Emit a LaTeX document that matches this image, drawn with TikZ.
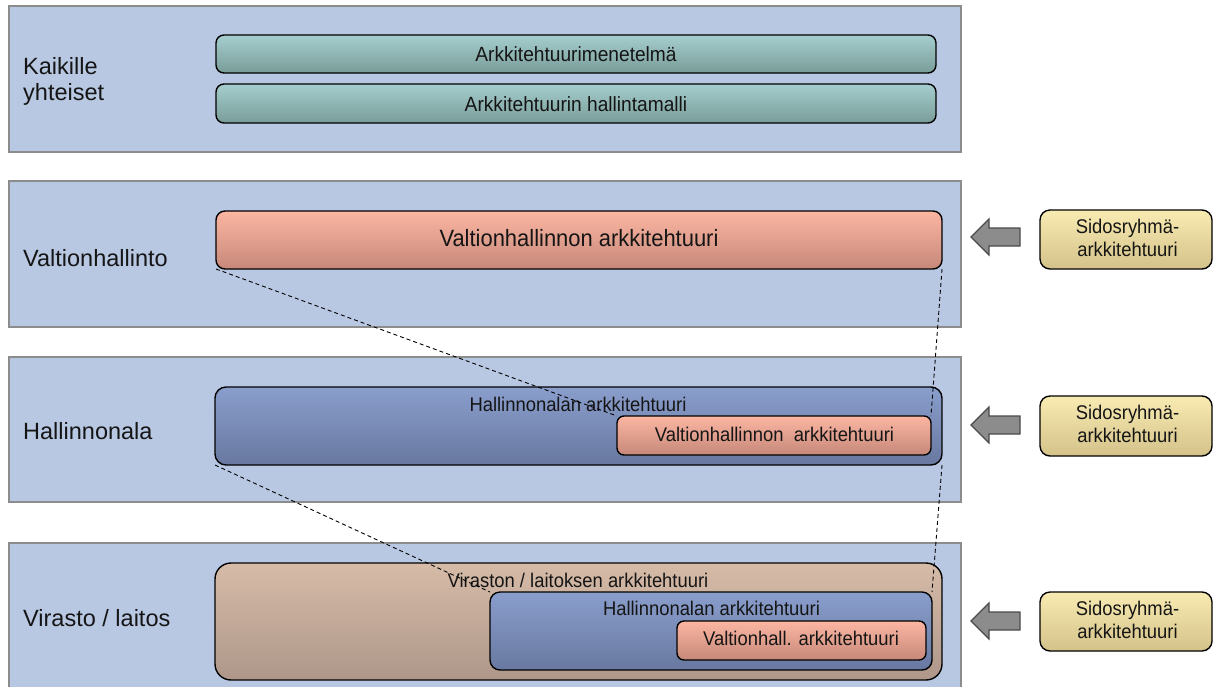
\documentclass[tikz,border=0pt]{standalone}
\usepackage{fontspec}
\setmainfont{Liberation Sans}
\newfontfamily\condsans[FakeStretch=0.93]{Liberation Sans}
\definecolor{bandfill}{HTML}{B8C8E2}
\definecolor{bandedge}{HTML}{8C8C8C}
\definecolor{tealtop}{HTML}{A5CECE}
\definecolor{tealbot}{HTML}{799C98}
\definecolor{salmtop}{HTML}{FCB6A2}
\definecolor{salmbot}{HTML}{C6887A}
\definecolor{bluetop}{HTML}{8A9ECC}
\definecolor{bluebot}{HTML}{6878A0}
\definecolor{browntop}{HTML}{D6BBA7}
\definecolor{brownbot}{HTML}{AE978A}
\definecolor{yeltop}{HTML}{F8EBB2}
\definecolor{yelbot}{HTML}{D4C289}
\definecolor{arrfill}{HTML}{8C8C8C}
\definecolor{arredge}{HTML}{4A4A4A}
\definecolor{txt}{HTML}{151515}
\begin{document}
\begin{tikzpicture}[x=1pt,y=-1pt,
  band/.style={draw=bandedge, line width=1.8pt, fill=bandfill, inner sep=0pt, outer sep=0pt, anchor=north west},
  rbox/.style={draw=black, line width=1.4pt, rounded corners=9pt, inner sep=0pt, outer sep=0pt},
  tealbox/.style={rbox, rounded corners=8pt, top color=tealtop, bottom color=tealbot},
  salmbox/.style={rbox, top color=salmtop, bottom color=salmbot},
  smallsalm/.style={rbox, rounded corners=7pt, top color=salmtop, bottom color=salmbot},
  bluebox/.style={rbox, rounded corners=11pt, top color=bluetop, bottom color=bluebot},
  brownbox/.style={rbox, rounded corners=16pt, top color=browntop, bottom color=brownbot},
  yelbox/.style={rbox, rounded corners=10pt, top color=yeltop, bottom color=yelbot},
  lbl/.style={text=txt, inner sep=0pt, anchor=base west, font=\fontsize{23.5pt}{28pt}\selectfont},
  bigtxt/.style={text=txt, inner sep=0pt, anchor=base, font=\condsans\fontsize{23.6pt}{28pt}\selectfont},
  midtxt/.style={text=txt, inner sep=0pt, anchor=base, font=\condsans\fontsize{20.6pt}{24pt}\selectfont},
  smalltxt/.style={text=txt, inner sep=0pt, anchor=base, font=\condsans\fontsize{19.8pt}{23pt}\selectfont},
  proj/.style={draw=black, line width=0.9pt, dash pattern=on 4pt off 3pt},
  blockarrow/.style={draw=arredge, line width=1.2pt, fill=arrfill, line join=miter}
]
\useasboundingbox (0,0) rectangle (1214,686);
\begin{scope}
\clip (0,0) rectangle (1214,686);
% bands
\node[band, minimum width=952pt, minimum height=146pt] (b1) at (9,6) {};
\node[band, minimum width=952pt, minimum height=146pt] (b2) at (9,181) {};
\node[band, minimum width=952pt, minimum height=145pt] (b3) at (9,357) {};
\node[band, minimum width=952pt, minimum height=160pt] (b4) at (9,543) {};

% band labels
\node[lbl] (l1a) at (23,74) {Kaikille};
\node[lbl] (l1b) at (23,100) {yhteiset};
\node[lbl] (l2) at (23,266) {Valtionhallinto};
\node[lbl] (l3) at (23,439) {Hallinnonala};
\node[lbl] (l4) at (23,626) {Virasto / laitos};

% band 1
\node[tealbox, minimum width=720pt, minimum height=38pt] (t1) at (576,54) {};
\node[tealbox, minimum width=720pt, minimum height=39pt] (t2) at (576,103.5) {};
\node[midtxt] (t1t) at (576,61.5) {Arkkitehtuurimenetelmä};
\node[midtxt] (t2t) at (576,111) {Arkkitehtuurin hallintamalli};

% band 2
\node[salmbox, minimum width=726pt, minimum height=58pt] (vh) at (579,240) {};
\node[bigtxt] (vht) at (579,246.5) {Valtionhallinnon arkkitehtuuri};

% band 3
\node[bluebox, minimum width=727pt, minimum height=78pt] (ha) at (578.5,426) {};
\node[smalltxt] (hat) at (578,411) {Hallinnonalan arkkitehtuuri};
\node[smallsalm, minimum width=314pt, minimum height=39pt] (havh) at (774,435.5) {};
\node[smalltxt] (havht) at (774.5,441.5) {Valtionhallinnon\ \ arkkitehtuuri};

% band 4
\node[brownbox, minimum width=727pt, minimum height=117pt] (vl) at (578.5,621.5) {};
\node[smalltxt] (vlt) at (578,587.5) {Viraston / laitoksen arkkitehtuuri};
\node[bluebox, rounded corners=10pt, minimum width=442pt, minimum height=78pt] (vlha) at (711,631) {};
\node[smalltxt] (vlhat) at (711.5,615) {Hallinnonalan arkkitehtuuri};
\node[smallsalm, minimum width=249pt, minimum height=39pt] (vlvh) at (801.5,640.5) {};
\node[smalltxt] (vlvht) at (801,645.5) {Valtionhall. arkkitehtuuri};

% projection lines
\draw[proj] (vh.south west) -- (havh.north west);
\draw[proj] (vh.south east) -- (havh.north east);
\draw[proj] (ha.south west) -- (vlha.north west);
\draw[proj] (ha.south east) -- (vlha.north east);

% stakeholder boxes
\node[yelbox, minimum width=172pt, minimum height=59pt] (s1) at (1126,239.5) {};
\node[smalltxt] (s1a) at (1127.5,233) {Sidosryhmä-};
\node[smalltxt] (s1b) at (1127.5,256) {arkkitehtuuri};
\node[yelbox, minimum width=172pt, minimum height=60pt] (s2) at (1126,426) {};
\node[smalltxt] (s2a) at (1127.5,419.5) {Sidosryhmä-};
\node[smalltxt] (s2b) at (1127.5,442.5) {arkkitehtuuri};
\node[yelbox, minimum width=172pt, minimum height=59pt] (s3) at (1126,621.5) {};
\node[smalltxt] (s3a) at (1127.5,615) {Sidosryhmä-};
\node[smalltxt] (s3b) at (1127.5,638) {arkkitehtuuri};

% block arrows
\foreach \cy/\nm in {237/a1,425/a2,621/a3}{
  \coordinate (\nm) at (971,\cy);
  \draw[blockarrow] (\nm) -- ++(18,-18) -- ++(0,9) -- ++(31,0) -- ++(0,18) -- ++(-31,0) -- ++(0,9) -- cycle;
}
\end{scope}
\end{tikzpicture}
\end{document}
